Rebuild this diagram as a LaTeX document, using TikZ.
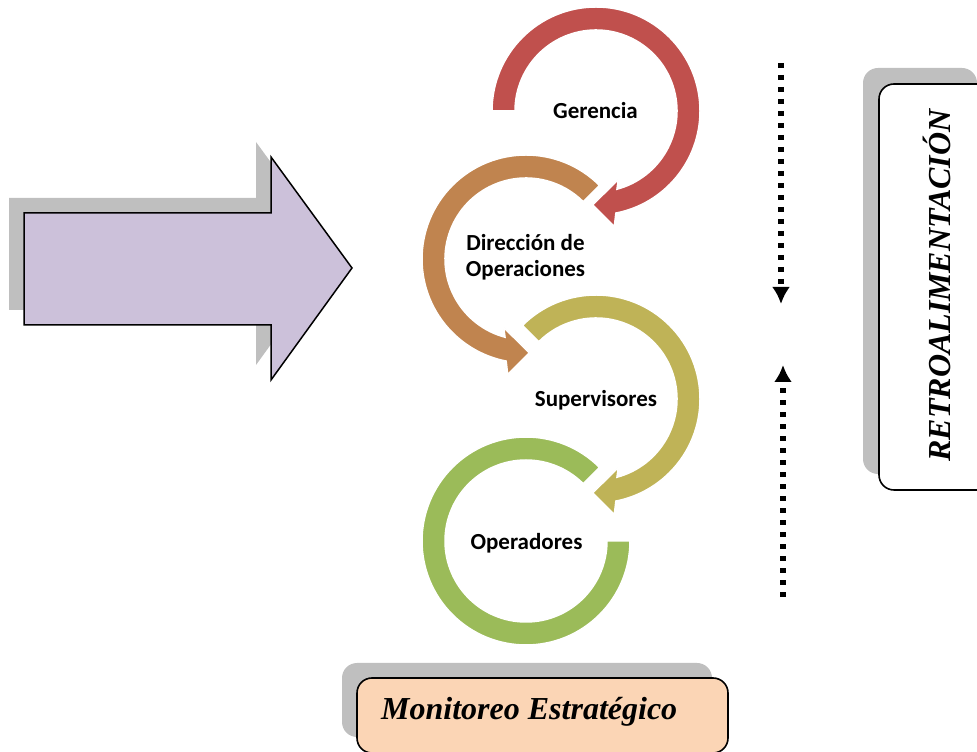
\documentclass[tikz,border=0pt]{standalone}
\usepackage{fontspec}
\setmainfont{Liberation Serif}
\newfontfamily\carlito{Carlito}
\usetikzlibrary{arrows.meta}

\definecolor{gerred}{HTML}{C0504D}
\definecolor{dirorange}{HTML}{C0844F}
\definecolor{supolive}{HTML}{BFB357}
\definecolor{opgreen}{HTML}{9BBB59}
\definecolor{arrowlila}{HTML}{CCC1DA}
\definecolor{shadowgray}{HTML}{BFBFBF}
\definecolor{monpeach}{HTML}{FBD5B5}

\tikzset{
  ring/.style={draw=white, line width=1.5pt},
  ringtext/.style={font=\carlito\bfseries\fontsize{23}{26}\selectfont, inner sep=0pt},
  boxtext/.style={font=\bfseries\itshape\fontsize{32}{36}\selectfont, inner sep=0pt},
  dotline/.style={line width=5.5pt, dash pattern=on 5pt off 7pt}
}

\begin{document}
\begin{tikzpicture}[x=1pt,y=1pt,>={Latex[length=17pt,width=18pt]}]
\useasboundingbox (0,0) rectangle (977,752);

% big arrow
\fill[shadowgray] (9,442)--(256,442)--(256,387)--(337,499)--(256,610)--(256,554)--(9,554)--cycle;
\filldraw[fill=arrowlila,line width=1.5pt] (24,427)--(271,427)--(271,372)--(352,484)--(271,595)--(271,539)--(24,539)--cycle;

% circular arrows
\begin{scope}[shift={(596,641)}]
\filldraw[ring,fill=gerred] (180:104) arc[start angle=180,end angle=-79,radius=104] --(-81:117)--(-92:94)--(-72:72)--(-75:81) arc[start angle=-75,end angle=180,radius=81]--cycle;
\end{scope}
\begin{scope}[shift={(526,493)}]
\filldraw[ring,fill=dirorange] (45:104) arc[start angle=45,end angle=259,radius=104] --(261:117)--(272:94)--(252:72)--(255:81) arc[start angle=255,end angle=45,radius=81]--cycle;
\end{scope}
\begin{scope}[shift={(596,353)}]
\filldraw[ring,fill=supolive] (135:104) arc[start angle=135,end angle=-79,radius=104] --(-81:117)--(-92:94)--(-72:72)--(-75:81) arc[start angle=-75,end angle=135,radius=81]--cycle;
\end{scope}
\begin{scope}[shift={(526,211)}]
\filldraw[ring,fill=opgreen] (45:104) arc[start angle=45,end angle=360,radius=104] --(0:81) arc[start angle=360,end angle=45,radius=81]--cycle;
\end{scope}

\node (gerencia) at (595.5,633)[ringtext,anchor=base]{Gerencia};
\node (direccion) at (525.5,495)[ringtext,align=center]{Dirección de\\Operaciones};
\node (supervisores) at (596,345)[ringtext,anchor=base]{Supervisores};
\node (operadores) at (526.5,202)[ringtext,anchor=base]{Operadores};

% feedback
\coordinate (bajaA) at (781,689);
\coordinate (bajaB) at (781,448);
\coordinate (subeA) at (783,155);
\coordinate (subeB) at (783,387);
\draw[dotline,->] (bajaA)--(bajaB);
\draw[dotline,->] (subeA)--(subeB);

\fill[shadowgray,rounded corners=15pt] (863,278) rectangle (977,684);
\filldraw[fill=white,line width=1.6pt,rounded corners=15pt] (879,262) rectangle (993,668);
\node (retro) at (950,466.5)[boxtext,rotate=90,anchor=base]{RETROALIMENTACIÓN};

% monitoring
\fill[shadowgray,rounded corners=15pt] (342,15) rectangle (712,89);
\filldraw[fill=monpeach,line width=1.6pt,rounded corners=15pt] (357,-1) rectangle (728,74);
\node (monitoreo) at (381,32)[boxtext,anchor=base west]{Monitoreo Estratégico};

\end{tikzpicture}
\end{document}
